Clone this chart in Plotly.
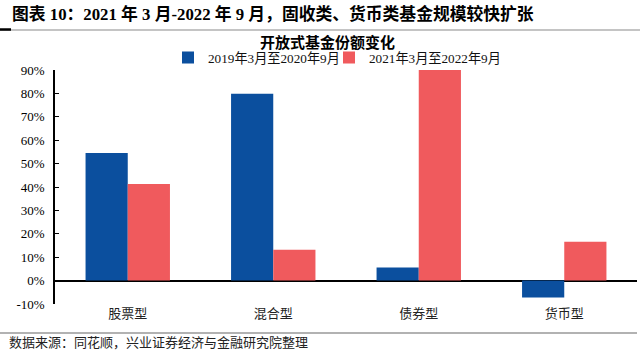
import plotly.graph_objects as go

categories = ["股票型", "混合型", "债券型", "货币型"]
series1_name = "2019年3月至2020年9月"
series2_name = "2021年3月至2022年9月"
series1 = [54.5, 79.8, 5.6, -7.2]
series2 = [41.3, 13.2, 90.5, 16.6]
ytick_vals = [-10, 0, 10, 20, 30, 40, 50, 60, 70, 80, 90]
ytick_text = [f"{v}%" for v in ytick_vals]

title_text = "图表 10：2021 年 3 月-2022 年 9 月，固收类、货币类基金规模较快扩张"
subtitle_text = "开放式基金份额变化"
source_text = "数据来源：同花顺，兴业证券经济与金融研究院整理"

SERIF = "Liberation Serif, Times New Roman, Noto Sans CJK SC"
CJK = "Noto Sans CJK SC, Liberation Serif"

W, H = 640, 351
L, R, T, B = 55, 3, 70, 47
pw = W - L - R
ph = H - T - B

def px(x):
    return (x - L) / pw

def py(y):
    return 1 - (y - T) / ph

fig = go.Figure()
fig.add_trace(go.Bar(x=categories, y=series1, name=series1_name, legend="legend",
                     marker=dict(color="#0B4F9E", line=dict(width=0))))
fig.add_trace(go.Bar(x=categories, y=series2, name=series2_name, legend="legend2",
                     marker=dict(color="#F05A5D", line=dict(width=0))))

legend_common = dict(orientation="h", xref="container", yref="container",
                     xanchor="left", yanchor="middle",
                     font=dict(family=SERIF, size=13.2, color="#111"),
                     bgcolor="rgba(0,0,0,0)", itemclick=False)

fig.update_layout(
    width=W, height=H,
    margin=dict(l=L, r=R, t=T, b=B, autoexpand=False),
    paper_bgcolor="white", plot_bgcolor="white",
    barmode="group", bargap=0.42, bargroupgap=0,
    showlegend=True,
    legend=dict(x=168 / W, y=1 - 58 / H, **legend_common),
    legend2=dict(x=329 / W, y=1 - 58 / H, **legend_common),
    title=dict(text="<b>" + title_text + "</b>", xref="container", yref="container",
               x=12 / W, y=1 - 14 / H, xanchor="left", yanchor="middle",
               font=dict(family=SERIF, size=16.8, color="#000")),
    font=dict(family=SERIF, color="#000"),
)

fig.update_xaxes(showline=False, ticks="", showgrid=False,
                 tickfont=dict(family=CJK, size=13, color="#222"))
fig.update_yaxes(range=[-10, 90], tickmode="array", tickvals=ytick_vals, ticktext=ytick_text,
                 showgrid=False, showline=True, linecolor="#000", linewidth=1.5,
                 ticks="inside", ticklen=4, tickcolor="#000", tickwidth=1,
                 ticklabelstandoff=6,
                 zeroline=True, zerolinecolor="#000", zerolinewidth=1.5,
                 tickfont=dict(family=SERIF, size=13, color="#000"))

# subtitle
fig.add_annotation(text="<b>" + subtitle_text + "</b>", xref="paper", yref="paper",
                   x=px(327), y=py(41), showarrow=False, xanchor="center", yanchor="middle",
                   font=dict(family=CJK, size=15, color="#000"))
# source
fig.add_annotation(text=source_text, xref="paper", yref="paper",
                   x=px(7), y=py(341.5), showarrow=False, xanchor="left", yanchor="middle",
                   font=dict(family=CJK, size=13, color="#222"))

# decorative rules
fig.add_shape(type="line", xref="paper", yref="paper", x0=px(0), x1=px(640),
              y0=py(30), y1=py(30), line=dict(color="#8A8A8A", width=1.2))
fig.add_shape(type="line", xref="paper", yref="paper", x0=px(0), x1=px(11),
              y0=py(29.5), y1=py(29.5), line=dict(color="#000", width=2.5))
fig.add_shape(type="line", xref="paper", yref="paper", x0=px(0), x1=px(637),
              y0=py(333), y1=py(333), line=dict(color="#666", width=1.2))

fig.write_html("out.html")
